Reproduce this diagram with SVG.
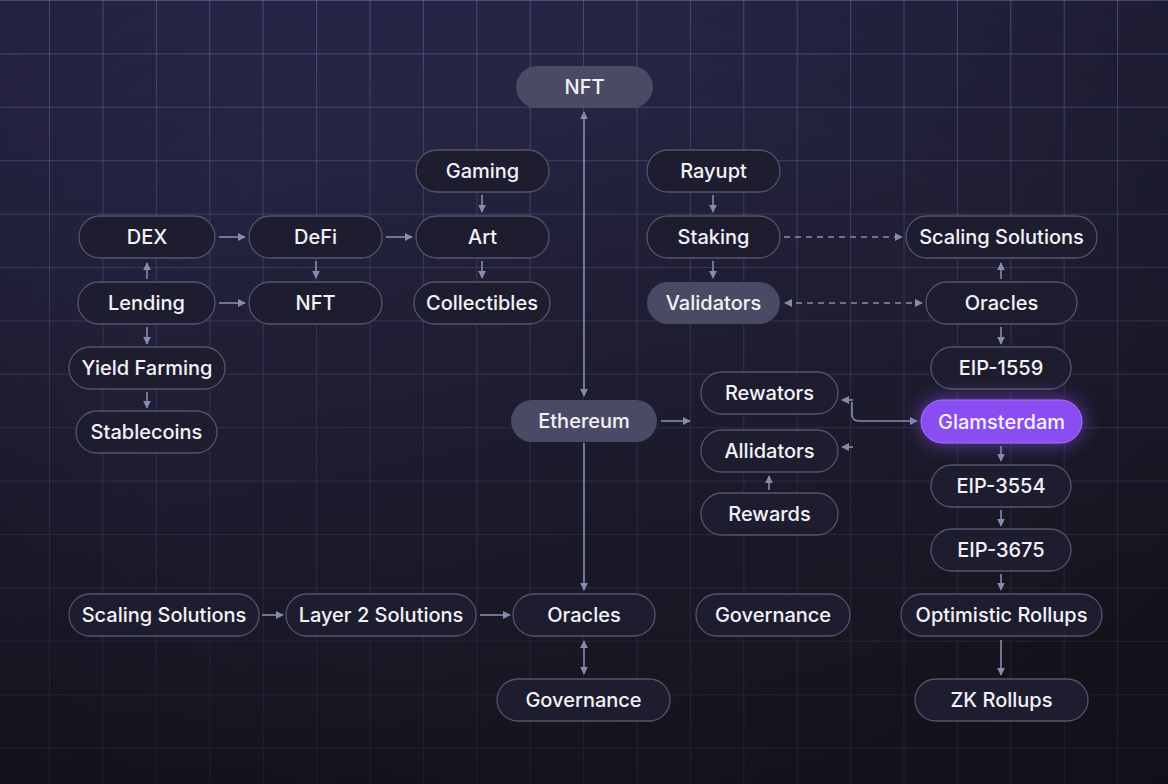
<svg xmlns="http://www.w3.org/2000/svg" width="1168" height="784" viewBox="0 0 1168 784">
<defs>
<linearGradient id="bg" x1="0" y1="0" x2="0.3" y2="1">
<stop offset="0" stop-color="#2d2b52"/>
<stop offset="0.45" stop-color="#201f36"/>
<stop offset="1" stop-color="#16151f"/>
</linearGradient>
<radialGradient id="vig" cx="0.5" cy="0.5" r="0.75">
<stop offset="0.5" stop-color="#000" stop-opacity="0"/>
<stop offset="1" stop-color="#000" stop-opacity="0.25"/>
</radialGradient>
<linearGradient id="gridG" gradientUnits="userSpaceOnUse" x1="0" y1="0" x2="0" y2="784">
<stop offset="0" stop-color="#6a68a0" stop-opacity="0.55"/>
<stop offset="0.5" stop-color="#55537a" stop-opacity="0.35"/>
<stop offset="1" stop-color="#44435c" stop-opacity="0.25"/>
</linearGradient>
<filter id="glow" x="-50%" y="-100%" width="200%" height="300%">
<feGaussianBlur stdDeviation="10"/>
</filter>
<marker id="ah" viewBox="0 0 10 10" refX="9" refY="5" markerWidth="8" markerHeight="8" markerUnits="userSpaceOnUse" orient="auto-start-reverse">
<path d="M0 0 L10 5 L0 10 Z" fill="#8a8aad"/>
</marker>
</defs>
<style>
.node rect{fill:#1e1d2f;stroke:#55546e;stroke-width:1.3}
.node.fill rect{fill:#4a4a65;stroke:none}
.node text{font-family:Inter,"Noto Sans","Liberation Sans",sans-serif;font-size:20px;font-weight:500;fill:#f2f2f7;text-anchor:middle;dominant-baseline:central}
.c{fill:none;stroke:#8a8aad;stroke-width:1.6}
.d{stroke-dasharray:6 5}
</style>
<rect width="1168" height="784" fill="url(#bg)"/>
<rect width="1168" height="784" fill="url(#vig)"/>
<path fill="none" stroke="url(#gridG)" stroke-width="1" d="M49.5 0V784M103 0V784M156.4 0V784M209.8 0V784M263.2 0V784M316.6 0V784M370 0V784M423.4 0V784M476.8 0V784M530.2 0V784M583.6 0V784M637 0V784M690.4 0V784M743.8 0V784M797.2 0V784M850.6 0V784M904 0V784M957.4 0V784M1010.8 0V784M1064.2 0V784M1117.6 0V784M0 0.5H1168M0 53.9H1168M0 107.3H1168M0 160.7H1168M0 214.1H1168M0 267.5H1168M0 320.9H1168M0 374.3H1168M0 427.7H1168M0 481.1H1168M0 534.5H1168M0 587.9H1168M0 641.3H1168M0 694.7H1168M0 748.1H1168"/>

<g id="connectors">
<path class="c" marker-start="url(#ah)" marker-end="url(#ah)" d="M584 112V396"/>
<path class="c" marker-end="url(#ah)" d="M584 443V590"/>
<path class="c" marker-end="url(#ah)" d="M661 421H690"/>
<path class="c" marker-end="url(#ah)" d="M482 195V212"/>
<path class="c" marker-end="url(#ah)" d="M482 261V278"/>
<path class="c" marker-end="url(#ah)" d="M219 237H245"/>
<path class="c" marker-end="url(#ah)" d="M386 237H412"/>
<path class="c" marker-end="url(#ah)" d="M316 261V278"/>
<path class="c" marker-end="url(#ah)" d="M147 279V263"/>
<path class="c" marker-end="url(#ah)" d="M219 303H245"/>
<path class="c" marker-end="url(#ah)" d="M147 327V344"/>
<path class="c" marker-end="url(#ah)" d="M147 392V408"/>
<path class="c" marker-end="url(#ah)" d="M713 195V212"/>
<path class="c" marker-end="url(#ah)" d="M713 261V278"/>
<path class="c d" marker-end="url(#ah)" d="M784 237H902"/>
<path class="c d" marker-start="url(#ah)" marker-end="url(#ah)" d="M785 303H922"/>
<path class="c" marker-end="url(#ah)" d="M1001 279V263"/>
<path class="c" marker-end="url(#ah)" d="M1001 327V344"/>
<path class="c" marker-end="url(#ah)" d="M1001 446V461"/>
<path class="c" marker-end="url(#ah)" d="M1001 510V526"/>
<path class="c" marker-end="url(#ah)" d="M1001 574V590"/>
<path class="c" marker-end="url(#ah)" d="M1001 640V675"/>
<path class="c" marker-end="url(#ah)" d="M852 402V414Q852 421 859 421H917"/>
<path class="c" marker-end="url(#ah)" d="M853 400H842"/>
<path class="c" marker-end="url(#ah)" d="M853 447H842"/>
<path class="c" marker-end="url(#ah)" d="M769 490V476"/>
<path class="c" marker-end="url(#ah)" d="M262 615H283"/>
<path class="c" marker-end="url(#ah)" d="M480 615H510"/>
<path class="c" marker-start="url(#ah)" marker-end="url(#ah)" d="M584 641V674"/>
</g>

<g id="n-nft-top" class="node fill"><rect x="516" y="66" width="137" height="42" rx="21"/><text x="584.5" y="87">NFT</text></g>
<g id="n-gaming" class="node"><rect x="416" y="150" width="133" height="42" rx="21"/><text x="482.5" y="171">Gaming</text></g>
<g id="n-art" class="node"><rect x="416" y="216" width="133" height="42" rx="21"/><text x="482.5" y="237">Art</text></g>
<g id="n-collectibles" class="node"><rect x="414" y="282" width="136" height="42" rx="21"/><text x="482" y="303">Collectibles</text></g>
<g id="n-dex" class="node"><rect x="79" y="216" width="136" height="42" rx="21"/><text x="147" y="237">DEX</text></g>
<g id="n-defi" class="node"><rect x="249" y="216" width="133" height="42" rx="21"/><text x="315.5" y="237">DeFi</text></g>
<g id="n-lending" class="node"><rect x="78" y="282" width="137" height="42" rx="21"/><text x="146.5" y="303">Lending</text></g>
<g id="n-nft-mid" class="node"><rect x="249" y="282" width="133" height="42" rx="21"/><text x="315.5" y="303">NFT</text></g>
<g id="n-yield" class="node"><rect x="69" y="347" width="156" height="42" rx="21"/><text x="147" y="368">Yield Farming</text></g>
<g id="n-stable" class="node"><rect x="76" y="411" width="141" height="42" rx="21"/><text x="146.5" y="432">Stablecoins</text></g>
<g id="n-rayupt" class="node"><rect x="647" y="150" width="133" height="42" rx="21"/><text x="713.5" y="171">Rayupt</text></g>
<g id="n-staking" class="node"><rect x="647" y="216" width="133" height="42" rx="21"/><text x="713.5" y="237">Staking</text></g>
<g id="n-validators" class="node fill"><rect x="647" y="282" width="133" height="42" rx="21"/><text x="713.5" y="303">Validators</text></g>
<g id="n-scaling-r" class="node"><rect x="906" y="216" width="191" height="42" rx="21"/><text x="1001.5" y="237">Scaling Solutions</text></g>
<g id="n-oracles-r" class="node"><rect x="926" y="282" width="151" height="42" rx="21"/><text x="1001.5" y="303">Oracles</text></g>
<g id="n-eip1559" class="node"><rect x="931" y="347" width="140" height="42" rx="21"/><text x="1001" y="368">EIP-1559</text></g>
<g id="n-glamsterdam" class="node">
<rect x="921" y="400" width="161" height="43" rx="21.5" fill="#8a4df2" stroke="none" opacity="0.7" filter="url(#glow)" style="fill:#8a4df2;stroke:none"/>
<rect x="921" y="400" width="161" height="43" rx="21.5" style="fill:#8a4df2;stroke:#a57af7;stroke-width:1"/>
<text x="1001.5" y="421.5">Glamsterdam</text></g>
<g id="n-eip3554" class="node"><rect x="931" y="465" width="140" height="42" rx="21"/><text x="1001" y="486">EIP-3554</text></g>
<g id="n-eip3675" class="node"><rect x="931" y="529" width="140" height="42" rx="21"/><text x="1001" y="550">EIP-3675</text></g>
<g id="n-optimistic" class="node"><rect x="901" y="594" width="201" height="42" rx="21"/><text x="1001.5" y="615">Optimistic Rollups</text></g>
<g id="n-zk" class="node"><rect x="915" y="679" width="173" height="42" rx="21"/><text x="1001.5" y="700">ZK Rollups</text></g>
<g id="n-ethereum" class="node fill"><rect x="511" y="400" width="146" height="42" rx="21"/><text x="584" y="421">Ethereum</text></g>
<g id="n-rewators" class="node"><rect x="701" y="372" width="137" height="42" rx="21"/><text x="769.5" y="393">Rewators</text></g>
<g id="n-allidators" class="node"><rect x="701" y="430" width="137" height="42" rx="21"/><text x="769.5" y="451">Allidators</text></g>
<g id="n-rewards" class="node"><rect x="701" y="493" width="137" height="42" rx="21"/><text x="769.5" y="514">Rewards</text></g>
<g id="n-scaling-l" class="node"><rect x="69" y="594" width="190" height="42" rx="21"/><text x="164" y="615">Scaling Solutions</text></g>
<g id="n-layer2" class="node"><rect x="286" y="594" width="190" height="42" rx="21"/><text x="381" y="615">Layer 2 Solutions</text></g>
<g id="n-oracles-b" class="node"><rect x="513" y="594" width="142" height="42" rx="21"/><text x="584" y="615">Oracles</text></g>
<g id="n-gov-r" class="node"><rect x="696" y="594" width="154" height="42" rx="21"/><text x="773" y="615">Governance</text></g>
<g id="n-gov-b" class="node"><rect x="497" y="679" width="173" height="42" rx="21"/><text x="583.5" y="700">Governance</text></g>
</svg>
